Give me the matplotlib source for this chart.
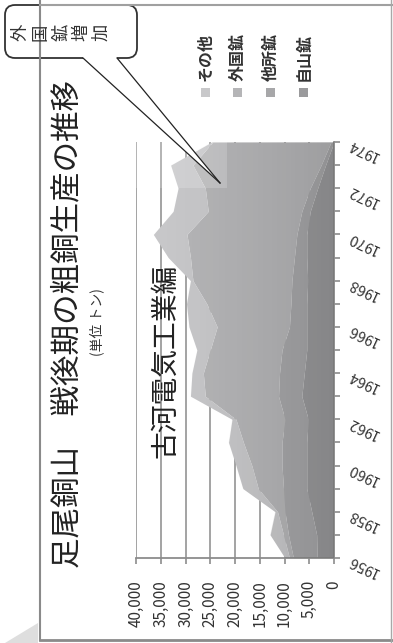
import matplotlib
matplotlib.use("Agg")
import matplotlib.pyplot as plt
from matplotlib.patches import FancyBboxPatch, Polygon, Rectangle
import numpy as np

plt.rcParams['font.family'] = ['Noto Sans CJK JP', 'DejaVu Sans']

# copper output by ore source, tonnes
years = list(range(1956, 1975))
jizan = [3400, 3500, 4500, 5500, 5500, 5500, 5200, 6500, 6000, 5500, 5500, 5500, 5300, 5500, 5500, 4800, 3300, 1700, 0]
tasho = [4800, 5700, 5400, 4700, 5000, 5000, 4700, 4700, 5000, 5000, 3500, 3200, 3200, 2500, 2000, 1700, 1500, 900, 600]
gaikoku = [800, 1000, 1500, 5100, 6100, 7800, 9900, 14800, 15400, 14500, 14600, 17000, 20000, 21000, 22200, 18900, 21200, 25900, 23900]
sonota = [900, 2700, 500, 3100, 3200, 3000, 800, 3000, 2300, 2700, 5700, 4100, 500, 4500, 6800, 7100, 5500, 4500, 200]

series_names = ["自山鉱", "他所鉱", "外国鉱", "その他"]
series_vals = [jizan, tasho, gaikoku, sonota]
colors = ["#9a9a9c", "#a7a7a9", "#b5b5b7", "#c8c8ca"]

value_ticks = list(range(0, 40001, 5000))
label_years = list(range(1956, 1975, 2))

W, H = 393, 643
fig = plt.figure(figsize=(W / 100, H / 100), dpi=100)
fig.patch.set_facecolor("white")

# chart is drawn turned a quarter turn: years run up, values run left
ax = fig.add_axes([136 / W, 1 - 558 / H, (334 - 136) / W, (558 - 142) / H])
base = np.zeros(len(years))
for name, vals, c in zip(series_names, series_vals, colors):
    top = base + np.array(vals)
    ax.fill_betweenx(years, base, top, color=c, lw=0, zorder=2)
    base = top

# darker shading toward the zero side, clipped to the stacked area
outline = Polygon(list(zip(base, years)) + [(0, years[-1]), (0, years[0])], closed=True,
                  fc="none", ec="none", transform=ax.transData)
ax.add_patch(outline)
grad = np.linspace(0, 1, 256).reshape(1, -1)
shade = np.zeros((1, 256, 4))
shade[..., 3] = 0.13 * grad ** 1.5
img = ax.imshow(shade, extent=(40000, 0, 1956, 1974), aspect="auto", zorder=3,
                interpolation="bilinear")
img.set_clip_path(outline)

# pale patch left behind by the callout
ax.add_patch(Rectangle((21600, 1972), 18400, 2, fc="white", alpha=0.18, ec="none", zorder=4))

ax.set_xlim(40000, 0)
ax.set_ylim(1956, 1974)
ax.set_xticks(value_ticks)
ax.set_xticklabels([f"{v:,}" for v in value_ticks], rotation=90, fontsize=11, color="#333333")
ax.xaxis.grid(True, color="#9c9c9c", lw=1.3, zorder=0)
ax.set_axisbelow(True)
ax.tick_params(axis="x", length=4, width=1.2, color="#8c8c8c", pad=12)

ax.yaxis.tick_right()
ax.set_yticks(years)
ax.set_yticklabels([])
ax.tick_params(axis="y", length=4, width=1.2, color="#8c8c8c")
for yr in label_years:
    ax.annotate(str(yr), xy=(1, yr), xycoords=ax.get_yaxis_transform(),
                xytext=(29, -8), textcoords="offset pixels", ha="center", va="center",
                rotation=155, fontsize=10.5, color="#333333")

for s in ["top", "left"]:
    ax.spines[s].set_visible(False)
for s in ["bottom", "right"]:
    ax.spines[s].set_color("#8c8c8c")
    ax.spines[s].set_linewidth(1.3)

# page layer in pixel units (y down)
ov = fig.add_axes([0, 0, 1, 1], zorder=5)
ov.set_xlim(0, W)
ov.set_ylim(H, 0)
ov.axis("off")

ov.plot([39.5, 39.5], [0, 640], color="#8a8a8a", lw=1.5)
ov.plot([39.5, W], [640, 640], color="#8a8a8a", lw=2)
ov.plot([39.5, W], [4.5, 4.5], color="#a0a0a0", lw=1.5)
ov.plot([390.5, 390.5], [0, H], color="#a8a8a8", lw=1)
ov.add_patch(Polygon([(5, 643), (38, 623), (38, 643)], closed=True, fc="#dedede", ec="none"))

ov.text(68, 324, "足尾銅山　戦後期の粗銅生産の推移", rotation=90, ha="center", va="center",
        fontsize=22, color="#222222")
ov.text(97, 322, "(単位 トン)", rotation=90, ha="center", va="center", fontsize=10, color="#333333")
ov.text(165, 361, "古河電気工業編", rotation=90, ha="center", va="center", fontsize=20, color="#222222")

# legend, top to bottom in the turned chart
leg_x = [205, 237, 270, 303]
for name, c, x in zip(series_names[::-1], colors[::-1], leg_x):
    ov.add_patch(Rectangle((x - 4.5, 87.5), 9, 9, fc=c, ec="none"))
    ov.text(x, 81, name, rotation=90, ha="center", va="bottom", fontsize=11.5,
            fontweight="bold", color="#333333")

# callout
ov.add_patch(FancyBboxPatch((5, 5), 132, 53, boxstyle="round,pad=0,rounding_size=10",
                            fc="white", ec="#333333", lw=1.3))
ov.add_patch(Polygon([(82.5, 54), (83, 58), (220, 183), (117, 58), (117.5, 54)],
                     closed=True, fc="white", ec="none"))
ov.plot([83, 220], [58, 183], color="#222222", lw=0.9)
ov.plot([117, 220], [58, 183], color="#222222", lw=0.9)
ov.text(61, 32, "外\n国\n鉱\n増\n加", rotation=90, ha="center", va="center",
        fontsize=12.5, linespacing=1.15, color="#333333")

fig.savefig("out.png", dpi=100)
plt.close(fig)
